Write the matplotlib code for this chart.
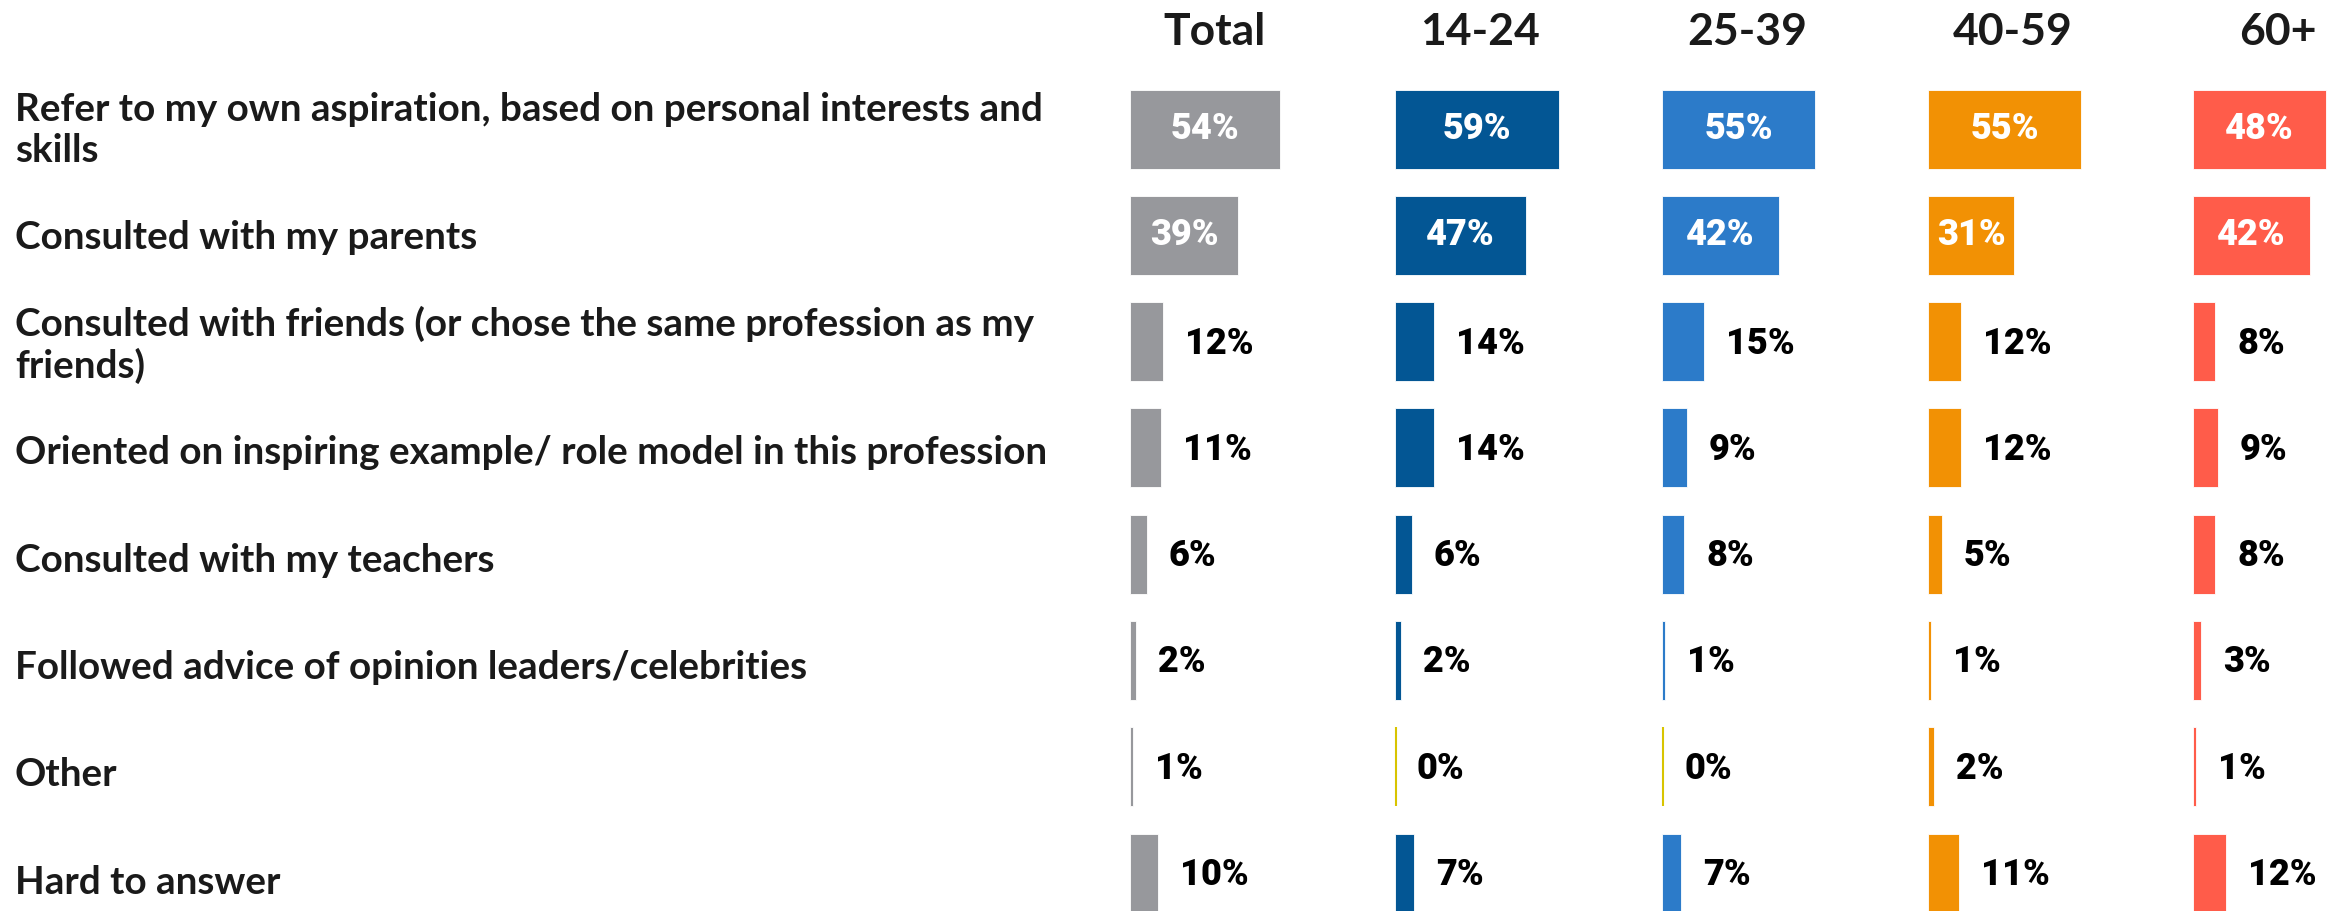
import matplotlib
matplotlib.use("Agg")
import matplotlib.pyplot as plt

# survey answers, one row per answer option
categories = [
    "Refer to my own aspiration, based on personal interests and\nskills",
    "Consulted with my parents",
    "Consulted with friends (or chose the same profession as my\nfriends)",
    "Oriented on inspiring example/ role model in this profession",
    "Consulted with my teachers",
    "Followed advice of opinion leaders/celebrities",
    "Other",
    "Hard to answer",
]

groups = ["Total", "14-24", "25-39", "40-59", "60+"]

total = [54, 39, 12, 11, 6, 2, 1, 10]
age_14_24 = [59, 47, 14, 14, 6, 2, 0, 7]
age_25_39 = [55, 42, 15, 9, 8, 1, 0, 7]
age_40_59 = [55, 31, 12, 12, 5, 1, 2, 11]
age_60_plus = [48, 42, 8, 9, 8, 3, 1, 12]

series = [total, age_14_24, age_25_39, age_40_59, age_60_plus]
colors = ["#97989c", "#035694", "#2c7bc9", "#f29104", "#ff5c4a"]
zero_color = "#d8c400"

W, H = 2343, 911
fig = plt.figure(figsize=(W / 100, H / 100), dpi=100)
ax = fig.add_axes([0, 0, 1, 1])
ax.set_xlim(0, W)
ax.set_ylim(H, 0)
ax.axis("off")

col_start = [1130, 1395, 1662, 1928, 2193]
px_per_pct = 2.78
row_y = [129 + 106.3 * i for i in range(len(categories))]
bar_h = 79

font = "Lato"
value_font = ["Roboto", "DejaVu Sans"]

for i, (label, y) in enumerate(zip(categories, row_y)):
    # answer texts drift slightly lower than the bars further down
    ax.text(15, y + 1 + 1.2 * i, label, ha="left", va="center", fontsize=27.8,
            family=font, weight="bold", color="#1a1a1a", linespacing=1.2)

for g, name in enumerate(groups):
    ax.text(col_start[g] + 85, 32, name, ha="center", va="center",
            fontsize=32, family=font, weight="bold", color="#1a1a1a")
    vals = series[g]
    widths = [v * px_per_pct for v in vals]
    ax.barh(row_y, widths, height=bar_h, left=col_start[g],
            color=colors[g], edgecolor="white", linewidth=0.6)
    for i, (v, w) in enumerate(zip(vals, widths)):
        y = row_y[i]
        if v == 0:
            ax.vlines(col_start[g] + 1, y - bar_h / 2, y + bar_h / 2,
                      color=zero_color, linewidth=1.5)
        if v >= 30:
            ax.text(col_start[g] + w / 2, y, f"{v}%", ha="center", va="center",
                    fontsize=26, family=value_font, weight="black", color="white")
        else:
            ax.text(col_start[g] + w + 22, y + 2, f"{v}%", ha="left", va="center",
                    fontsize=26, family=value_font, weight="black", color="black")

fig.savefig("out.png", dpi=100)
